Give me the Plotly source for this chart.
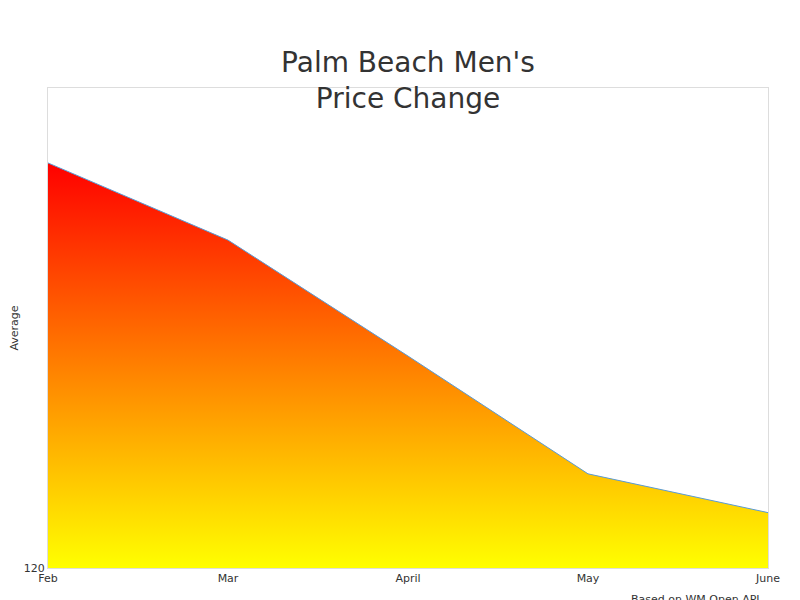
import plotly.graph_objects as go

months = ["Feb", "Mar", "April", "May", "June"]
avg_price = [229.7, 208.8, 177.4, 145.5, 135.0]
y_ticks = [120]

fig = go.Figure(go.Scatter(
    x=months, y=avg_price, mode="lines",
    line=dict(color="#5b9bd5", width=1),
    fill="tozeroy",
    fillgradient=dict(type="vertical", start=120, stop=max(avg_price),
                      colorscale=[[0, "#ffff00"], [1, "#ff0000"]]),
))
fig.update_layout(
    width=800, height=600,
    paper_bgcolor="white", plot_bgcolor="white",
    font=dict(family="DejaVu Sans", color="#333"),
    title=dict(text="Palm Beach Men's<br>Price Change", x=0.5, xanchor="center",
               yref="paper", y=1.0, yanchor="bottom", pad=dict(b=16),
               font=dict(size=28, color="#333")),
    margin=dict(l=40, r=40, t=80, b=40, autoexpand=False),
    showlegend=False,
    annotations=[dict(text="Based on WM Open API", xref="paper", yref="paper", x=0.992, y=-0.048,
                      xanchor="right", yanchor="top", showarrow=False, font=dict(size=11, color="#333"))],
)
fig.update_xaxes(range=[0, 4], showgrid=False, showline=True, linecolor="#ddd", mirror=True,
                 ticks="", tickfont=dict(size=11), zeroline=False, automargin=False)
fig.update_yaxes(range=[120, 250], tickvals=y_ticks, showgrid=False, showline=True, linecolor="#ddd",
                 mirror=True, tickfont=dict(size=11), zeroline=False, automargin=False,
                 title=dict(text="Average", font=dict(size=11), standoff=8))
fig.write_html("out.html")
